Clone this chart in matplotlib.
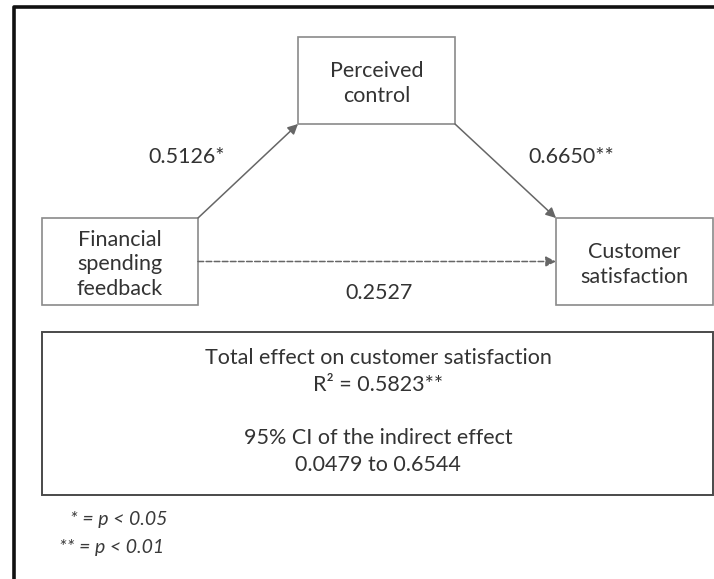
import matplotlib.pyplot as plt
from matplotlib.patches import Rectangle, FancyArrowPatch

# labels and values
node_labels = ["Perceived\ncontrol", "Financial\nspending\nfeedback", "Customer\nsatisfaction"]
path_coefs = ["0.5126*", "0.6650**", "0.2527"]
summary_lines = ["Total effect on customer satisfaction", "R\u00b2 = 0.5823**",
                 "95% CI of the indirect effect", "0.0479 to 0.6544"]
footnotes = ["* = p < 0.05", "** = p < 0.01"]

# layout in pixel units (x, y from top-left)
boxes = [(298, 37, 157, 87), (42, 218, 156, 87), (556, 218, 157, 87)]
big_box = (42, 332, 671, 163)

plt.rcParams['font.family'] = ['Lato', 'DejaVu Sans']
txt = '#333333'
fs = 15.5

fig = plt.figure(figsize=(7.14, 5.79), dpi=100)
ax = fig.add_axes([0, 0, 1, 1])
ax.set_xlim(0, 714)
ax.set_ylim(579, 0)
ax.axis('off')

# outer frame (cut off at right and bottom)
ax.plot([14, 14, 720], [600, 7, 7], color='#111111', lw=2.6, solid_capstyle='butt')

for (x, y, w, h), lab in zip(boxes, node_labels):
    ax.add_patch(Rectangle((x, y), w, h, fill=False, ec='#8a8a8a', lw=1.2))
    ax.text(x + w / 2, y + h / 2 + 3, lab, ha='center', va='center', fontsize=fs,
            color=txt, linespacing=1.3)

pc, fin, cus = boxes
arrows = [
    ((fin[0] + fin[2], fin[1]), (pc[0], pc[1] + pc[3]), '-'),
    ((pc[0] + pc[2], pc[1] + pc[3]), (cus[0], cus[1]), '-'),
    ((fin[0] + fin[2], fin[1] + fin[3] / 2), (cus[0], cus[1] + cus[3] / 2), '--'),
]
for (p0, p1, ls) in arrows:
    ax.add_patch(FancyArrowPatch(p0, p1, arrowstyle='-|>', mutation_scale=15,
                                 color='#666666', lw=1.1, linestyle=ls,
                                 shrinkA=0, shrinkB=0))

coef_pos = [(187, 157), (571, 157), (379, 293)]
for (x, y), lab in zip(coef_pos, path_coefs):
    ax.text(x, y, lab, ha='center', va='center', fontsize=fs, color=txt)

x, y, w, h = big_box
ax.add_patch(Rectangle((x, y), w, h, fill=False, ec='#4a4a4a', lw=1.4))
for yy, line in zip([358, 385, 438, 465], summary_lines):
    ax.text(378, yy, line, ha='center', va='center', fontsize=fs, color=txt)

for yy, xr, line in zip([519, 547], [167, 164], footnotes):
    ax.text(xr, yy, line, ha='right', va='center', fontsize=14,
            style='italic', color='#3a3a3a')

fig.savefig('out.png', dpi=100)
